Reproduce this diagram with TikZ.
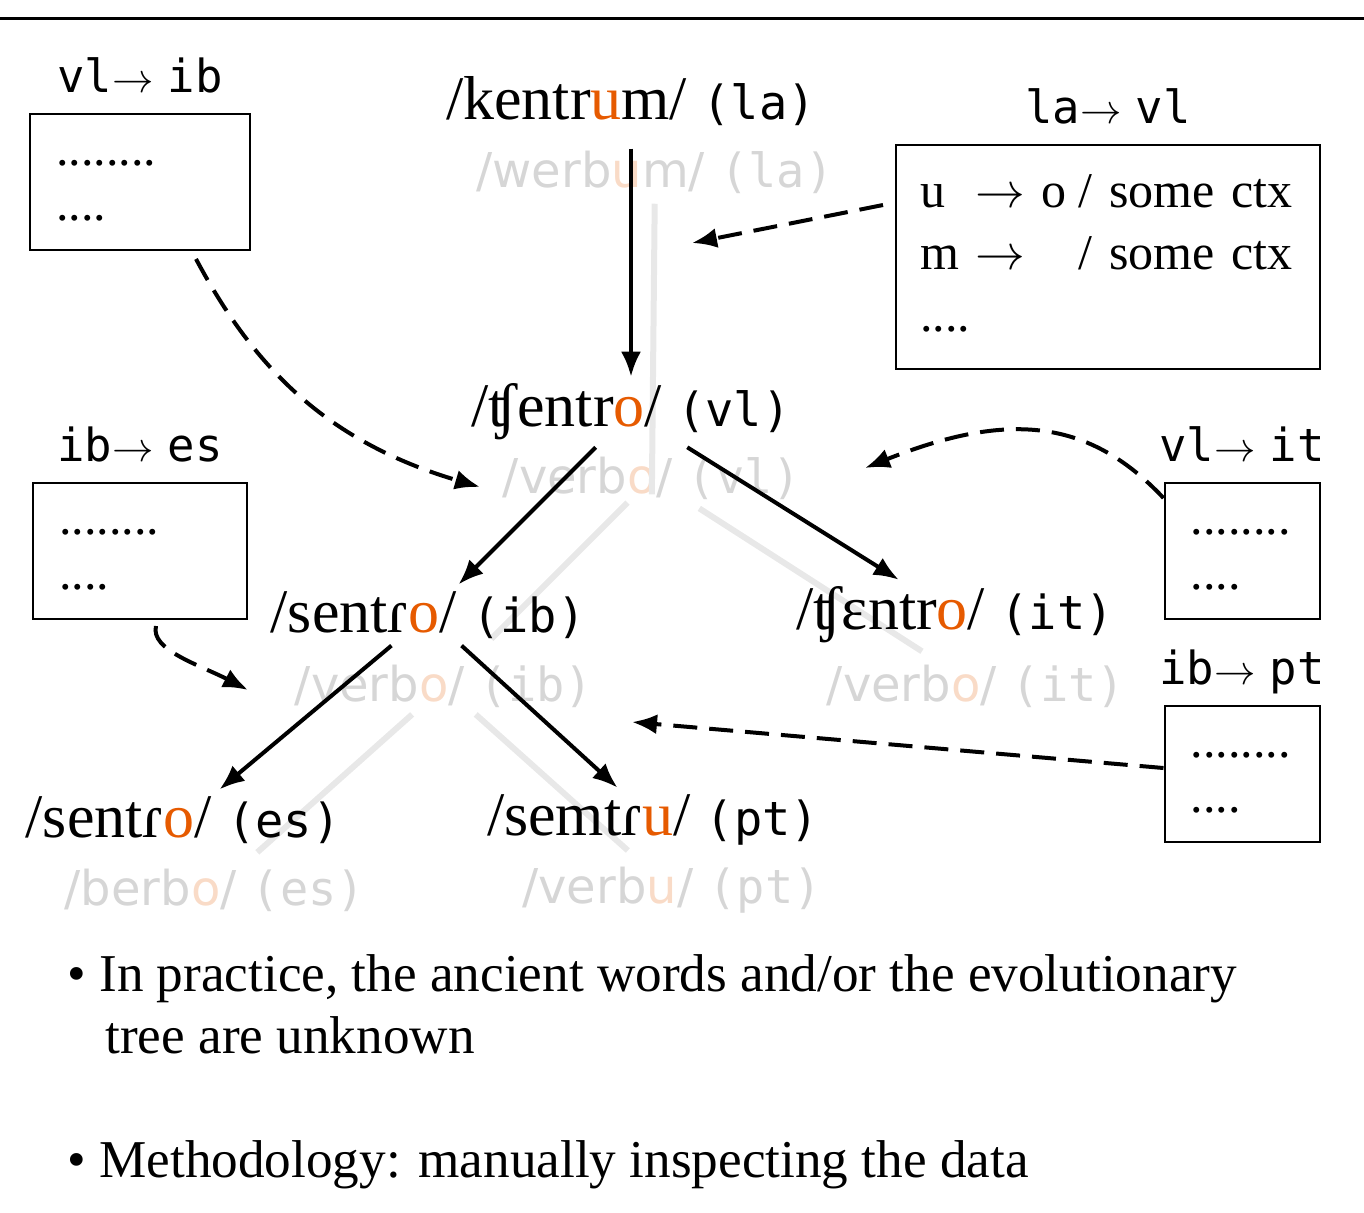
\documentclass[tikz,border=0pt]{standalone}
\usepackage{fontspec}
\setmainfont{Liberation Serif}
\setsansfont{DejaVu Sans}
\setmonofont{DejaVu Sans Mono}
\usetikzlibrary{arrows.meta,positioning}

\definecolor{vowel}{RGB}{230,90,0}
\newcommand{\vow}[1]{\textcolor{vowel}{#1}}
\newcommand{\gvow}[1]{\textcolor{vowel!22}{#1}}
\newcommand{\lang}[1]{{\ttfamily\fontsize{23.5pt}{27pt}\selectfont #1}}
\newcommand{\into}{$\rightarrow$\hspace{7pt}}

\begin{document}
\begin{tikzpicture}[x=0.5pt,y=-0.5pt,>={Latex[length=12.5pt,width=10pt]},
  word/.style={font=\fontsize{31pt}{37pt}\selectfont},
  ghost/.style={text=gray!32,inner sep=0pt,font=\sffamily\fontsize{24pt}{28pt}\selectfont},
  ghostedge/.style={gray!18,line width=3pt},
  tree/.style={->,line width=2pt},
  ruleflow/.style={->,line width=2pt,dash pattern=on 12pt off 6pt},
  rulebox/.style={draw,line width=1pt,inner xsep=13pt,align=left,minimum height=68pt,font=\fontsize{25pt}{27.5pt}\selectfont},
  rulelabel/.style={inner sep=0pt,text depth=0pt,font=\ttfamily\fontsize{22.8pt}{27pt}\selectfont},
  point/.style={anchor=base west,inner sep=0pt,align=left,font=\fontsize{26.6pt}{31pt}\selectfont}]
  \useasboundingbox (0,0) rectangle (1364,1212);
  \draw[line width=1.5pt] (0,18) -- (1364,18);

  % faded tree behind
  \node[ghost] (gla) at (655,172) {/werb\gvow{u}m/ \lang{(la)}};
  \node[ghost] (gvl) at (652,478) {/verb\gvow{o}/ \lang{(vl)}};
  \node[ghost] (gib) at (444,686) {/verb\gvow{o}/ \lang{(ib)}};
  \node[ghost] (git) at (976,686) {/verb\gvow{o}/ \lang{(it)}};
  \node[ghost] (ges) at (215,890) {/berb\gvow{o}/ \lang{(es)}};
  \node[ghost] (gpt) at (672,890) {/verb\gvow{u}/ \lang{(pt)}};
  \draw[ghostedge,shorten <=5pt,shorten >=-19pt] (gla) -- (gvl);
  \draw[ghostedge,shorten <=2pt,shorten >=18pt] (gvl) -- (gib);
  \draw[ghostedge,shorten <=8pt,shorten >=12pt] (gvl) -- (git);
  \draw[ghostedge,shorten <=5pt,shorten >=12pt] (gib) -- (ges);
  \draw[ghostedge,shorten <=5pt,shorten >=12pt] (gib) -- (gpt);

  % reconstructed words
  \node[word] (la) at (631,101) {/kentr\vow{u}m/ \lang{(la)}};
  \node[word] (vl) at (631,412) {/ʧentr\vow{o}/ \lang{(vl)}};
  \node[word] (ib) at (428,615) {/sentɾ\vow{o}/ \lang{(ib)}};
  \node[word] (it) at (955,615) {/ʧɛntr\vow{o}/ \lang{(it)}};
  \node[word] (es) at (183,820) {/sentɾ\vow{o}/ \lang{(es)}};
  \node[word] (pt) at (653,820) {/semtɾ\vow{u}/ \lang{(pt)}};
  \draw[tree,shorten <=8pt] (la) -- (vl);
  \draw[tree] (vl) -- (ib);
  \draw[tree] (vl) -- (it);
  \draw[tree] (ib) -- (es);
  \draw[tree] (ib) -- (pt);

  % sound change rules
  \node[rulebox,text width=84pt] (rvlib) at (140,182) {\strut........\\....\strut};
  \node[rulebox,text width=81pt] (rbies) at (140,551) {\strut........\\....\strut};
  \node[rulebox,text width=51.5pt] (rvlit) at (1242,551) {\strut........\\....\strut};
  \node[rulebox,text width=51.5pt] (ribpt) at (1242,774) {\strut........\\....\strut};
  \node[rulebox,inner xsep=12pt,text width=188pt,minimum height=112pt,font=\fontsize{25pt}{31pt}\selectfont] (rlavl) at (1108,257)
    {\begin{tabular}{@{}l@{\ }l@{\ }l@{\hspace{6pt}}l@{}}
      u & $\rightarrow$ & o & / some ctx\\
      m & $\rightarrow$ &   & / some ctx\\
      \multicolumn{4}{@{}l@{}}{....}
    \end{tabular}};
  \node[rulelabel,above=10pt of rvlib] (lvlib) {vl\into ib};
  \node[rulelabel,above=10pt of rbies] (lbies) {ib\into es};
  \node[rulelabel,above=10pt of rvlit] (lvlit) {vl\into it};
  \node[rulelabel,above=10pt of ribpt] (libpt) {ib\into pt};
  \node[rulelabel,above=10pt of rlavl] (llavl) {la\into vl};

  \coordinate (e1) at (692,243);
  \coordinate (e2) at (480,487);
  \coordinate (e3) at (248,690);
  \coordinate (e4) at (865,468);
  \coordinate (e5) at (632,722);
  \draw[ruleflow] ([xshift=-6pt,yshift=26pt]rlavl.west) -- (e1);
  \draw[ruleflow] ([xshift=28pt,yshift=-4pt]rvlib.south) .. controls (250,360) and (320,440) .. (e2);
  \draw[ruleflow] ([xshift=8pt,yshift=-3pt]rbies.south) .. controls (150,650) and (200,665) .. (e3);
  \draw[ruleflow] ([yshift=-8pt]rvlit.north west) .. controls (1090,420) and (1010,410) .. (e4);
  \draw[ruleflow] ([yshift=3pt]ribpt.west) -- (e5);

  \node[point] (p1) at (67,1053) {• In practice, the ancient words and/or the evolutionary\\\hspace*{19pt}tree are unknown};
  \node[point] (p2) at (67,1177) {• Methodology: manually inspecting the data};
\end{tikzpicture}
\end{document}
